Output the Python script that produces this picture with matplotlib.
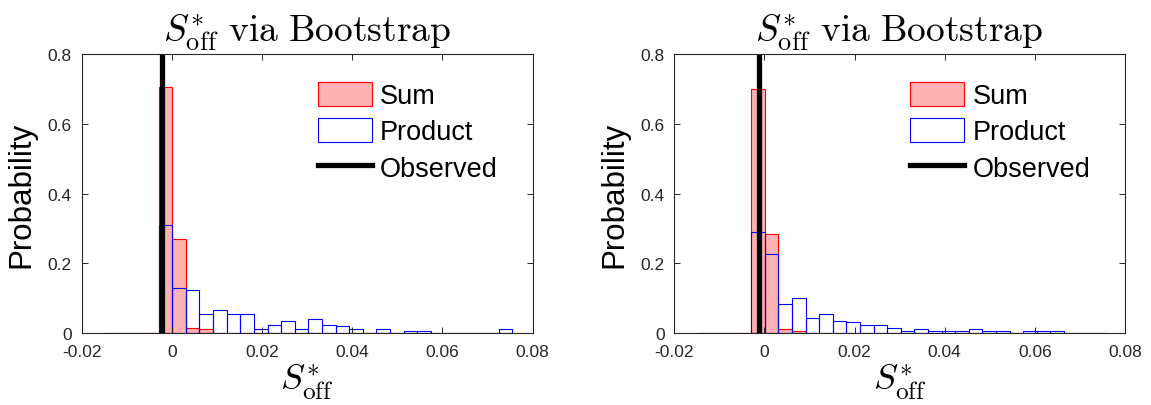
import numpy as np
import matplotlib
matplotlib.use("Agg")
import matplotlib.pyplot as plt

plt.rcParams['font.family'] = ['Liberation Sans', 'DejaVu Sans']
plt.rcParams['mathtext.fontset'] = 'cm'

# bootstrap histogram bins (shared by both panels)
bin_start = -0.0150
bin_stop = 0.0755
n_bins = 30

# left panel
sum_left = [0, 0, 0, 0, 0.705, 0.270, 0.016, 0.011, 0, 0,
            0, 0, 0, 0, 0, 0, 0, 0, 0, 0,
            0, 0, 0, 0, 0, 0, 0, 0, 0, 0]
prod_left = [0, 0, 0, 0, 0.310, 0.130, 0.125, 0.055, 0.066, 0.055,
             0.055, 0.011, 0.025, 0.035, 0.011, 0.041, 0.025, 0.020, 0.011, 0,
             0.011, 0, 0.006, 0.006, 0, 0, 0, 0, 0, 0.011]
obs_left = -0.0021

# right panel
sum_right = [0, 0, 0, 0, 0.700, 0.284, 0.011, 0.006, 0, 0,
             0, 0, 0, 0, 0, 0, 0, 0, 0, 0,
             0, 0, 0, 0, 0, 0, 0, 0, 0, 0]
prod_right = [0, 0, 0, 0, 0.290, 0.226, 0.085, 0.100, 0.045, 0.055,
              0.035, 0.031, 0.025, 0.025, 0.016, 0.006, 0.011, 0.006, 0.006, 0.006,
              0.011, 0.006, 0.006, 0, 0.006, 0.006, 0.006, 0, 0, 0]
obs_right = -0.0012

xticks = [-0.02, 0, 0.02, 0.04, 0.06, 0.08]
xtick_labels = ['-0.02', '0', '0.02', '0.04', '0.06', '0.08']
yticks = [0, 0.2, 0.4, 0.6, 0.8]
ytick_labels = ['0', '0.2', '0.4', '0.6', '0.8']

title = r'$S^{*}_{\mathrm{off}}\ \mathrm{via\ Bootstrap}$'
xlab = r'$S^{*}_{\mathrm{off}}$'

edges = np.linspace(bin_start, bin_stop, n_bins + 1)
axc = '0.15'

fig = plt.figure(figsize=(11.51, 4.06), dpi=100)
ax1 = fig.add_axes([0.0710, 0.1766, 0.3918, 0.6879])
ax2 = fig.add_axes([0.5858, 0.1766, 0.3916, 0.6879])

for ax, s, p, obs in [(ax1, sum_left, prod_left, obs_left),
                      (ax2, sum_right, prod_right, obs_right)]:
    h1 = ax.bar(edges[:-1], s, width=np.diff(edges), align='edge',
                facecolor=(1, 0, 0, 0.3), edgecolor='red', linewidth=0.8)
    h2 = ax.bar(edges[:-1], p, width=np.diff(edges), align='edge',
                facecolor='none', edgecolor='blue', linewidth=0.8)
    h3 = ax.axvline(obs, color='k', linewidth=3.8)

    ax.set_xlim(-0.02, 0.08)
    ax.set_ylim(0, 0.8)
    ax.set_xticks(xticks)
    ax.set_xticklabels(xtick_labels)
    ax.set_yticks(yticks)
    ax.set_yticklabels(ytick_labels)
    ax.tick_params(direction='in', top=True, right=True, length=4,
                   width=0.7, color=axc, labelcolor=axc, labelsize=12.5)
    ax.tick_params(axis='x', pad=8)
    ax.tick_params(axis='y', pad=7)
    for sp in ax.spines.values():
        sp.set_color(axc)
        sp.set_linewidth(0.8)

    ax.set_title(title, fontsize=27, pad=10)
    ax.set_xlabel(xlab, fontsize=26, labelpad=2)
    ax.set_ylabel('Probability', fontsize=22.5, labelpad=8)

    ax.legend([h1, h2, h3], ['Sum', 'Product', 'Observed'],
              loc='upper left', bbox_to_anchor=(0.499, 0.94), frameon=False,
              fontsize=19.5, handlelength=2.0, handleheight=1.0,
              handletextpad=0.3, labelspacing=0.33, borderaxespad=0)

fig.savefig('out.png', dpi=100)
